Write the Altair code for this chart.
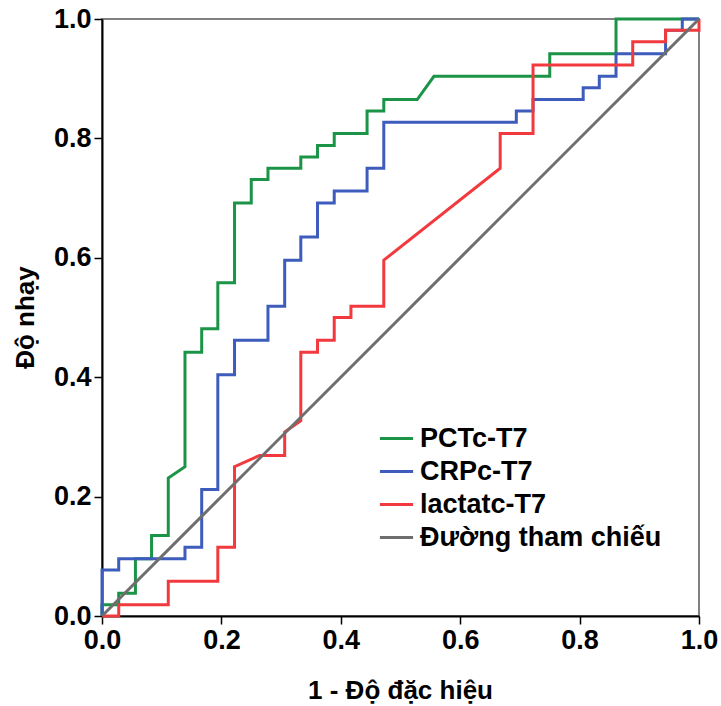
import altair as alt
import pandas as pd

# ROC curves (1 - specificity, sensitivity)
pct_x = [0, 0, 0.028, 0.028, 0.056, 0.056, 0.083, 0.083, 0.111, 0.111, 0.139, 0.139, 0.167, 0.167,
         0.194, 0.194, 0.222, 0.222, 0.25, 0.25, 0.278, 0.278, 0.333, 0.333, 0.361, 0.361, 0.389, 0.389,
         0.444, 0.444, 0.472, 0.472, 0.528, 0.556, 0.75, 0.75, 0.861, 0.861, 1.0]
pct_y = [0, 0.019, 0.019, 0.038, 0.038, 0.096, 0.096, 0.135, 0.135, 0.231, 0.25, 0.442, 0.442, 0.481,
         0.481, 0.558, 0.558, 0.692, 0.692, 0.731, 0.731, 0.75, 0.75, 0.769, 0.769, 0.788, 0.788, 0.808,
         0.808, 0.846, 0.846, 0.865, 0.865, 0.904, 0.904, 0.942, 0.942, 1.0, 1.0]

crp_x = [0, 0, 0.028, 0.028, 0.139, 0.139, 0.167, 0.167, 0.194, 0.194, 0.222, 0.222, 0.278, 0.278,
         0.306, 0.306, 0.333, 0.333, 0.361, 0.361, 0.389, 0.389, 0.444, 0.444, 0.472, 0.472, 0.694, 0.694,
         0.722, 0.722, 0.806, 0.806, 0.833, 0.833, 0.861, 0.861, 0.944, 0.944, 0.972, 0.972, 1.0]
crp_y = [0, 0.077, 0.077, 0.096, 0.096, 0.115, 0.115, 0.212, 0.212, 0.404, 0.404, 0.462, 0.462, 0.519,
         0.519, 0.596, 0.596, 0.635, 0.635, 0.692, 0.692, 0.712, 0.712, 0.75, 0.75, 0.827, 0.827, 0.846,
         0.846, 0.865, 0.865, 0.885, 0.885, 0.904, 0.904, 0.942, 0.942, 0.981, 0.981, 1.0, 1.0]

lac_x = [0, 0.028, 0.028, 0.111, 0.111, 0.194, 0.194, 0.222, 0.222, 0.264, 0.306, 0.306, 0.333, 0.333,
         0.361, 0.361, 0.389, 0.389, 0.417, 0.417, 0.472, 0.472, 0.667, 0.667, 0.722, 0.722, 0.889, 0.889,
         0.944, 0.944, 1.0, 1.0]
lac_y = [0, 0, 0.019, 0.019, 0.058, 0.058, 0.115, 0.115, 0.25, 0.269, 0.269, 0.308, 0.327, 0.442,
         0.442, 0.462, 0.462, 0.5, 0.5, 0.519, 0.519, 0.596, 0.75, 0.808, 0.808, 0.923, 0.923, 0.962,
         0.962, 0.981, 0.981, 1.0]

ref_x = [0, 1.0]
ref_y = [0, 1.0]

series_names = ["PCTc-T7", "CRPc-T7", "lactatc-T7", " Đường tham chiếu"]
series_colors = ["#1b9448", "#3d5cbc", "#f23a3e", "#6e6e6e"]
tick_values = [0.0, 0.2, 0.4, 0.6, 0.8, 1.0]

frames = []
for name, xs, ys in zip(series_names, [pct_x, crp_x, lac_x, ref_x], [pct_y, crp_y, lac_y, ref_y]):
    frames.append(pd.DataFrame({"series": name, "x": xs, "y": ys, "i": range(len(xs))}))
df = pd.concat(frames, ignore_index=True)

FONT = "Liberation Sans"

color = alt.Color(
    "series:N",
    scale=alt.Scale(domain=series_names, range=series_colors),
    sort=series_names,
    legend=alt.Legend(
        title=None, orient="none", legendX=276, legendY=401,
        symbolType="stroke", symbolSize=1100, symbolStrokeWidth=3,
        labelFont=FONT, labelFontSize=27, labelFontWeight="bold", labelColor="black",
        labelOffset=5, rowPadding=1, padding=0, labelLimit=400,
    ),
)

xenc = alt.X("x:Q", scale=alt.Scale(domain=[0, 1], nice=False),
             axis=alt.Axis(values=tick_values, format=".1f", title="1 - Độ đặc hiệu",
                           titleX=298, titleY=82, titleBaseline="alphabetic"))
yenc = alt.Y("y:Q", scale=alt.Scale(domain=[0, 1], nice=False),
             axis=alt.Axis(values=tick_values, format=".1f", title="Độ nhạy",
                           titleX=-64, titleY=298, titleAngle=-90, titleBaseline="bottom"))

layers = []
for name in series_names:
    layers.append(
        alt.Chart(df).transform_filter(alt.datum.series == name)
        .mark_line(strokeWidth=3, clip=False)
        .encode(x=xenc, y=yenc, color=color, order="i:Q")
    )

chart = alt.layer(*layers).properties(
    width=597, height=597,
    autosize=alt.AutoSizeParams(type="none"),
    padding={"left": 102, "top": 19, "right": 22, "bottom": 90},
).configure_view(
    stroke="#808080", strokeWidth=2
).configure_axis(
    grid=False, domainColor="black", domainWidth=2, tickColor="black", tickWidth=1.5,
    tickSize=8, labelFont=FONT, labelFontSize=27, labelFontWeight="bold", labelColor="black",
    labelPadding=3, labelFlush=False, titleFont=FONT, titleFontSize=26, titleFontWeight="bold",
    titleColor="black",
)

chart.save("out.html", embed_options={"renderer": "svg", "actions": False})
